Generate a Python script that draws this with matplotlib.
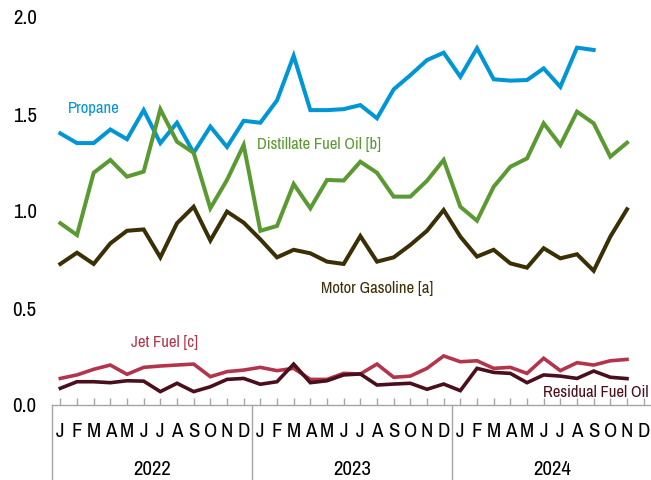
import matplotlib
matplotlib.use('Agg')
from matplotlib import pyplot as plt
import matplotlib.transforms as mtransforms

plt.rcParams['font.family'] = ['Archivo Narrow', 'Roboto Condensed', 'Liberation Sans', 'DejaVu Sans']

# Monthly values, Jan 2022 onward
propane = [1.40, 1.35, 1.35, 1.42, 1.37, 1.52, 1.35, 1.455, 1.30, 1.435,
           1.33, 1.465, 1.455, 1.57, 1.80, 1.52, 1.52, 1.525, 1.546, 1.478,
           1.627, 1.70, 1.778, 1.816, 1.692, 1.839, 1.679, 1.672, 1.675, 1.735,
           1.64, 1.842, 1.83]
distillate = [0.937, 0.876, 1.197, 1.263, 1.177, 1.203, 1.524, 1.357, 1.30, 1.014,
              1.16, 1.34, 0.898, 0.923, 1.139, 1.014, 1.16, 1.157, 1.254, 1.197,
              1.074, 1.074, 1.156, 1.263, 1.022, 0.95, 1.125, 1.228, 1.271, 1.452,
              1.34, 1.512, 1.452, 1.28, 1.352]
gasoline = [0.727, 0.785, 0.727, 0.833, 0.898, 0.905, 0.761, 0.937, 1.022, 0.848,
            0.997, 0.94, 0.854, 0.761, 0.80, 0.782, 0.739, 0.727, 0.871, 0.739,
            0.761, 0.825, 0.898, 1.005, 0.868, 0.765, 0.80, 0.73, 0.708, 0.808,
            0.756, 0.777, 0.692, 0.868, 1.009]
jet = [0.137, 0.155, 0.184, 0.206, 0.158, 0.194, 0.201, 0.206, 0.211, 0.146,
       0.172, 0.18, 0.194, 0.177, 0.189, 0.132, 0.132, 0.163, 0.16, 0.211,
       0.143, 0.149, 0.189, 0.253, 0.223, 0.228, 0.189, 0.194, 0.163, 0.241,
       0.177, 0.218, 0.206, 0.228, 0.235]
residual = [0.086, 0.12, 0.12, 0.115, 0.125, 0.123, 0.069, 0.112, 0.069, 0.094,
            0.132, 0.137, 0.107, 0.12, 0.211, 0.115, 0.125, 0.155, 0.16, 0.103,
            0.108, 0.112, 0.081, 0.108, 0.074, 0.189, 0.168, 0.163, 0.115, 0.155,
            0.149, 0.137, 0.175, 0.143, 0.136]
month_letters = ['J', 'F', 'M', 'A', 'M', 'J', 'J', 'A', 'S', 'O', 'N', 'D']
years = ['2022', '2023', '2024']

c_prop = '#0096d6'
c_dist = '#5b9a32'
c_gas = '#3b2f06'
c_jet = '#b3354b'
c_res = '#4a0f1c'
gray = '#a6a6a6'

fig = plt.figure(figsize=(6.51, 4.80), dpi=100)
ax = fig.add_axes([52/651, 75/480, 600/651, 388/480])

ax.plot(range(len(propane)), propane, c=c_prop, lw=2.9, solid_joinstyle='miter')
ax.plot(range(len(distillate)), distillate, c=c_dist, lw=2.9, solid_joinstyle='miter')
ax.plot(range(len(gasoline)), gasoline, c=c_gas, lw=2.9, solid_joinstyle='miter')
ax.plot(range(len(jet)), jet, c=c_jet, lw=2.6, solid_joinstyle='miter')
ax.plot(range(len(residual)), residual, c=c_res, lw=2.6, solid_joinstyle='miter')

ax.set_xlim(-0.5, 35.5)
ax.set_ylim(0, 2.0)

# series labels
ax.text(0.45, 1.53, 'Propane', color=c_prop, fontsize=12, va='center')
ax.text(11.8, 1.345, 'Distillate Fuel Oil [b]', color=c_dist, fontsize=12, va='center')
ax.text(15.65, 0.60, 'Motor Gasoline [a]', color=c_gas, fontsize=12, va='center')
ax.text(4.25, 0.32, 'Jet Fuel [c]', color=c_jet, fontsize=12, va='center')
ax.text(28.95, 0.067, 'Residual Fuel Oil', color=c_res, fontsize=12, va='center')

# axes format
for s in ['top', 'right', 'left']:
    ax.spines[s].set_visible(False)
ax.spines['bottom'].set_color(gray)
ax.spines['bottom'].set_linewidth(1)

ax.set_yticks([0, 0.5, 1.0, 1.5, 2.0])
ax.set_yticklabels(['0.0', '0.5', '1.0', '1.5', '2.0'])
ax.tick_params(axis='y', length=0, pad=11, labelsize=15)

ax.set_xticks(range(36))
ax.set_xticklabels(month_letters * 3)
ax.tick_params(axis='x', direction='in', length=5, color=gray, width=1,
               pad=12, labelsize=15)

trans = mtransforms.blended_transform_factory(ax.transData, ax.transAxes)
for k in range(4):
    ax.plot([12*k - 0.5, 12*k - 0.5], [0, -0.2], transform=trans, c=gray,
            lw=1, clip_on=False)
for k, yr in enumerate(years):
    ax.text(12*k + 5.5, -0.165, yr, transform=trans, ha='center', va='center',
            fontsize=15)

fig.savefig('out.png', dpi=100)
